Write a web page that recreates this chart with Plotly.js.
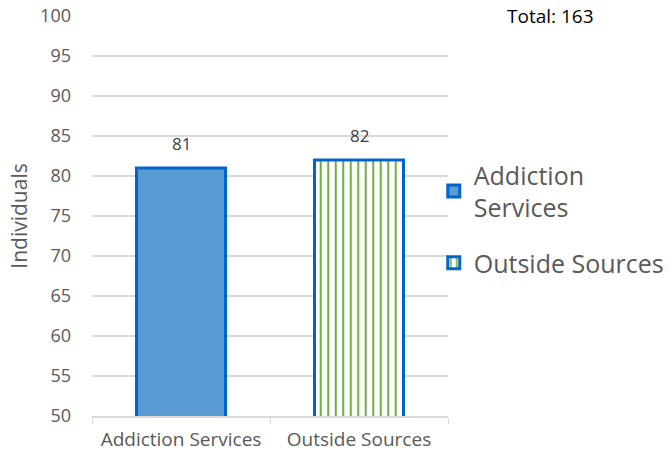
<!DOCTYPE html>
<html><head><meta charset="utf-8">
<script src="https://cdn.plot.ly/plotly-3.0.1.min.js"></script>
<style>body{margin:0;padding:0;background:#fff}#chart{width:672px;height:461px}</style>
</head><body><div id="chart"></div>
<script>
const categories = ["Addiction Services", "Outside Sources"];
const seriesNames = ["Addiction<br>Services", "Outside Sources"];
const values = [81, 82];
const totalLabel = "Total: 163";
const yTicks = [50,55,60,65,70,75,80,85,90,95,100];

const FONT = "'Open Sans', 'Noto Sans', sans-serif";
const traces = [
  {
    type: "bar", name: seriesNames[0], legendgroup: "g1",
    x: [categories[0]], y: [values[0]],
    marker: {color: "#5B9BD5", line: {color: "#0066CC", width: 3}},
    width: 0.5
  },
  {
    type: "bar", name: seriesNames[1], legendgroup: "g2",
    x: [categories[1]], y: [values[1]],
    marker: {color: "#ffffff", line: {color: "#0066CC", width: 3},
      pattern: {shape: "|", fgcolor: "#70AD47", bgcolor: "#ffffff", size: 7.5, solidity: 0.28, fgopacity: 1, fillmode: "replace"}},
    width: 0.5
  }
];

const labelAnns = categories.map((c, i) => ({
  x: c, y: values[i], xref: "x", yref: "y", text: String(values[i]),
  showarrow: false, yanchor: "bottom", yshift: 11,
  font: {family: FONT, size: 17, color: "#404040"}
}));

const layout = {
  width: 672, height: 461,
  margin: {l: 92, r: 224, t: 16, b: 45, autoexpand: false},
  paper_bgcolor: "#fff", plot_bgcolor: "#fff",
  barmode: "overlay",
  showlegend: true,
  legend: {x: 0.96, xanchor: "left", y: 0.66, yanchor: "top",
    font: {family: FONT, size: 25, color: "#595959"},
    itemwidth: 30, tracegroupgap: 20, bgcolor: "rgba(0,0,0,0)"},
  xaxis: {
    type: "category", tickson: "boundaries", ticks: "outside", ticklen: 6,
    tickcolor: "#D9D9D9", showline: true, linecolor: "#D9D9D9", linewidth: 1.5,
    showgrid: false, tickfont: {family: FONT, size: 19, color: "#595959"},
    ticklabelstandoff: 6, fixedrange: true
  },
  yaxis: {
    range: [50, 100], tickvals: yTicks, ticks: "", showline: false,
    gridcolor: "#D9D9D9", gridwidth: 1.3, zeroline: false,
    tickfont: {family: FONT, size: 18, color: "#595959"}, ticklabelstandoff: 20,
    title: {text: "Individuals", font: {family: FONT, size: 21, color: "#595959"}, standoff: 6},
    fixedrange: true
  },
  annotations: labelAnns.concat([{
    text: totalLabel, xref: "paper", yref: "paper", x: 1.416, y: 1.0,
    xanchor: "right", yanchor: "middle", showarrow: false,
    font: {family: FONT, size: 19, color: "#000000"}
  }])
};

Plotly.newPlot("chart", traces, layout, {displayModeBar: false, staticPlot: true});
</script></body></html>
